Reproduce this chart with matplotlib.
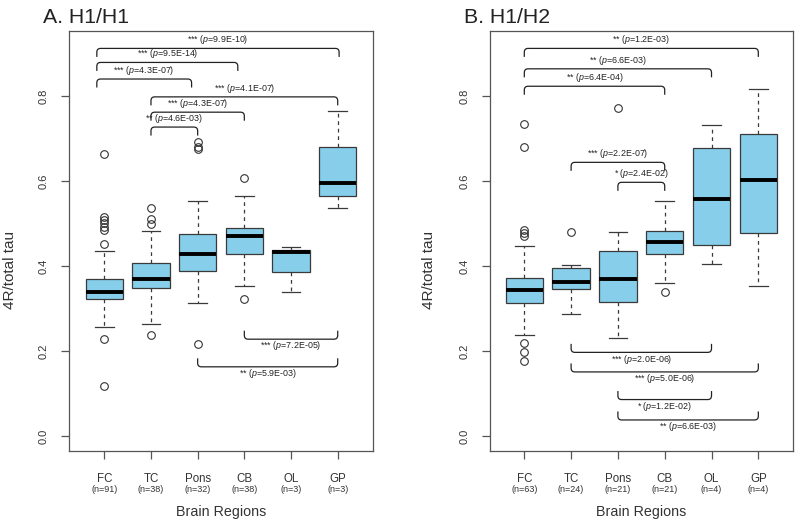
import matplotlib
matplotlib.use("Agg")
import matplotlib.pyplot as plt
from matplotlib.path import Path
from matplotlib.patches import PathPatch

plt.rcParams['font.family'] = ['Liberation Sans', 'DejaVu Sans']
plt.rcParams['mathtext.fontset'] = 'custom'
plt.rcParams['mathtext.rm'] = 'Liberation Sans'
plt.rcParams['mathtext.it'] = 'Liberation Sans:italic'

regions = ['FC', 'TC', 'Pons', 'CB', 'OL', 'GP']

# A. H1/H1
n_a = [91, 38, 32, 38, 3, 3]
med_a = [0.340, 0.370, 0.429, 0.471, 0.432, 0.596]
q1_a = [0.322, 0.349, 0.388, 0.428, 0.385, 0.565]
q3_a = [0.369, 0.408, 0.475, 0.490, 0.438, 0.681]
lo_a = [0.257, 0.264, 0.314, 0.354, 0.340, 0.536]
hi_a = [0.436, 0.482, 0.553, 0.565, 0.445, 0.765]
fliers_a = [[0.664, 0.516, 0.508, 0.501, 0.493, 0.485, 0.452, 0.228, 0.118],
            [0.536, 0.510, 0.500, 0.238],
            [0.693, 0.681, 0.675, 0.216],
            [0.608, 0.322],
            [], []]

# B. H1/H2
n_b = [63, 24, 21, 21, 4, 4]
med_b = [0.344, 0.363, 0.369, 0.456, 0.558, 0.602]
q1_b = [0.314, 0.346, 0.315, 0.428, 0.449, 0.477]
q3_b = [0.373, 0.395, 0.436, 0.483, 0.677, 0.710]
lo_b = [0.238, 0.287, 0.230, 0.361, 0.405, 0.353]
hi_b = [0.448, 0.402, 0.481, 0.553, 0.732, 0.816]
fliers_b = [[0.734, 0.681, 0.485, 0.478, 0.470, 0.220, 0.198, 0.176],
            [0.481], [0.773], [0.338], [], []]

# comparisons: (group i, group j, bracket height, stars, p value, opens up?)
brackets_a = [(0, 5, 0.912, '***', '9.9E-10', True),
              (0, 3, 0.879, '***', '9.5E-14', True),
              (0, 2, 0.840, '***', '4.3E-07', True),
              (1, 5, 0.798, '***', '4.1E-07', True),
              (1, 3, 0.762, '***', '4.3E-07', True),
              (1, 2, 0.727, '**', '4.6E-03', True),
              (3, 5, 0.228, '***', '7.2E-05', False),
              (2, 5, 0.163, '**', '5.9E-03', False)]
shift_a = [(-0.16, 0.03), (-0.16, -0.14), (-0.16, -0.13), (0, 0), (0, 0), (0, 0), (0, 0), (0, 0)]

brackets_b = [(0, 5, 0.912, '**', '1.2E-03', True),
              (0, 4, 0.864, '**', '6.6E-03', True),
              (0, 3, 0.823, '**', '6.4E-04', True),
              (1, 3, 0.644, '***', '2.2E-07', True),
              (2, 3, 0.597, '*', '2.4E-02', True),
              (1, 4, 0.197, '***', '2.0E-06', False),
              (1, 5, 0.151, '***', '5.0E-06', False),
              (2, 4, 0.086, '*', '1.2E-02', False),
              (2, 5, 0.038, '**', '6.6E-03', False)]
shift_b = [(0, 0)] * len(brackets_b)

GREY = '#555555'


def bracket(ax, x1, x2, y, top):
    d = 0.02 if top else -0.02
    c = 0.009 if top else -0.009
    r = 0.08
    verts = [(x1, y - d), (x1, y - c), (x1, y), (x1 + r, y), (x2 - r, y),
             (x2, y), (x2, y - c), (x2, y - d)]
    codes = [Path.MOVETO, Path.LINETO, Path.CURVE3, Path.CURVE3, Path.LINETO,
             Path.CURVE3, Path.CURVE3, Path.LINETO]
    ax.add_patch(PathPatch(Path(verts, codes), fill=False, color='#222222', lw=0.9))


def panel(ax, med, q1, q3, lo, hi, fliers, nn, brackets, shifts, xlim):
    stats = []
    for k in range(len(regions)):
        stats.append(dict(med=med[k], q1=q1[k], q3=q3[k], whislo=lo[k],
                          whishi=hi[k], fliers=fliers[k]))
    pos = list(range(1, len(regions) + 1))
    ax.bxp(stats, positions=pos, widths=0.8, patch_artist=True,
           boxprops=dict(facecolor='#87CEEB', edgecolor='#3a3a3a', lw=0.9),
           medianprops=dict(color='black', lw=2.8, solid_capstyle='butt'),
           whiskerprops=dict(color='#3a3a3a', lw=0.9, linestyle=(0, (3, 3))),
           capprops=dict(color='#3a3a3a', lw=0.9),
           capwidths=0.4,
           flierprops=dict(marker='o', markerfacecolor='none',
                           markeredgecolor='#333333', markersize=5.5, mew=0.8))

    for (i, j, y, stars, p, top), (s1, s2) in zip(brackets, shifts):
        x1 = pos[i] + s1
        x2 = pos[j] + s2
        bracket(ax, x1, x2, y, top)
        ty = y + 0.020 if top else y - 0.016
        ax.text((x1 + x2) / 2, ty, stars + ' ($\\it{p}$=' + p + ')',
                ha='center', va='center', fontsize=6.4, color='#222222')

    ax.set_xlim(*xlim)
    ax.set_ylim(-0.035, 0.953)
    ax.set_yticks([0.0, 0.2, 0.4, 0.6, 0.8])
    ax.set_yticklabels(['0.0', '0.2', '0.4', '0.6', '0.8'])
    ax.set_xticks(pos)
    ax.set_xticklabels([''] * len(pos))
    ax.tick_params(axis='y', labelrotation=90, length=6, width=0.9,
                   color=GREY, pad=9, labelsize=8, labelcolor='#333333')
    ax.tick_params(axis='x', length=6, width=0.9, color=GREY)
    for lab in ax.get_yticklabels():
        lab.set_va('center')
    for sp in ax.spines.values():
        sp.set_color(GREY)
        sp.set_linewidth(0.9)

    tr = ax.get_xaxis_transform()
    for k, name in enumerate(regions):
        ax.text(pos[k], -0.066, name, transform=tr, ha='center', va='center',
                fontsize=8.3, color='#333333')
        ax.text(pos[k], -0.091, '(n=' + str(nn[k]) + ')', transform=tr,
                ha='center', va='center', fontsize=6.5, color='#333333')
    ax.text(0.5, -0.145, 'Brain Regions', transform=ax.transAxes,
            ha='center', va='center', fontsize=10.3, color='#333333')
    ax.set_ylabel('4R/total tau', fontsize=11, color='#333333')


fig = plt.figure(figsize=(8, 5.26), dpi=100)
ax1 = fig.add_axes([0.08625, 0.1426, 0.38, 0.7985])
ax2 = fig.add_axes([0.6125, 0.1426, 0.3784, 0.7985])

panel(ax1, med_a, q1_a, q3_a, lo_a, hi_a, fliers_a, n_a, brackets_a, shift_a, (0.244, 6.756))
panel(ax2, med_b, q1_b, q3_b, lo_b, hi_b, fliers_b, n_b, brackets_b, shift_b, (0.267, 6.735))
ax1.yaxis.set_label_coords(-0.171, 0.43)
ax2.yaxis.set_label_coords(-0.18, 0.43)

fig.text(43 / 800, 1 - 23 / 526, 'A. H1/H1', fontsize=15.3, va='baseline', color='#222222')
fig.text(464 / 800, 1 - 23 / 526, 'B. H1/H2', fontsize=15.3, va='baseline', color='#222222')

fig.savefig('out.png', dpi=100)
